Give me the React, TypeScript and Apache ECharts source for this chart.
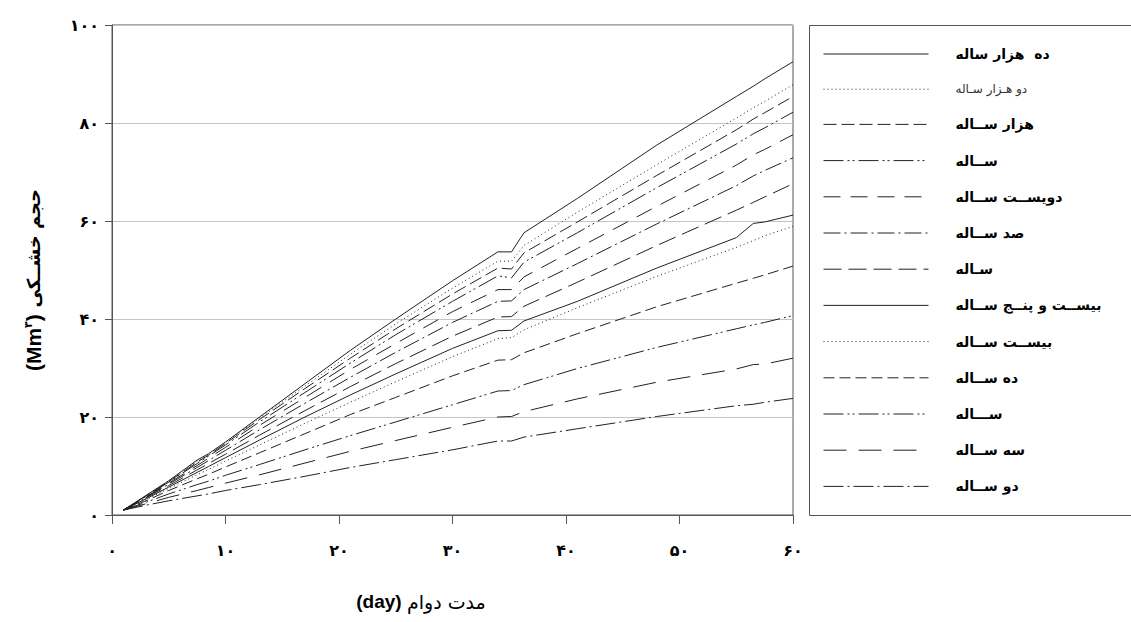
import React, { useEffect, useRef } from 'react';
import * as echarts from 'echarts';

const days = [1, 3, 5, 7.5, 8.5, 10, 13, 17, 21, 25, 30, 34, 35.2, 36.3, 41, 48, 55, 56.5, 57.5, 60];

const L1 = [1.0, 4.0, 7.0, 11.2, 12.5, 14.9, 20.0, 26.8, 33.6, 40.0, 47.8, 53.7, 53.7, 57.6, 64.6, 75.5, 85.4, 87.5, 89.0, 92.5];
const L2 = [1.0, 3.9, 6.9, 11.0, 12.4, 14.8, 19.8, 26.3, 32.8, 39.0, 46.3, 51.8, 51.8, 55.0, 61.8, 71.5, 81.0, 83.1, 84.4, 87.8];
const L3 = [1.0, 3.9, 6.8, 10.8, 12.2, 14.6, 19.5, 25.8, 32.0, 38.0, 45.1, 50.4, 50.2, 53.5, 59.8, 69.3, 78.6, 80.8, 82.1, 85.4];
const L4 = [1.0, 3.8, 6.7, 10.5, 12.0, 14.3, 19.0, 25.0, 31.0, 36.8, 43.6, 48.8, 48.4, 51.6, 57.6, 66.8, 75.7, 77.8, 79.0, 82.2];
const L5 = [1.0, 3.7, 6.5, 10.1, 11.6, 13.8, 18.3, 24.0, 29.7, 35.0, 41.5, 46.0, 46.0, 48.6, 54.4, 63.0, 71.4, 73.5, 74.6, 77.6];
const L6 = [1.0, 3.6, 6.3, 9.7, 11.1, 13.2, 17.4, 22.8, 28.1, 33.2, 39.3, 43.6, 43.7, 46.0, 51.3, 59.4, 67.2, 69.2, 70.3, 72.9];
const L7 = [1.0, 3.5, 6.0, 9.2, 10.5, 12.4, 16.3, 21.3, 26.2, 30.9, 36.5, 40.4, 40.5, 42.6, 47.5, 55.0, 62.2, 63.8, 64.9, 67.6];
const L8 = [1.0, 3.3, 5.7, 8.7, 9.9, 11.7, 15.3, 20.0, 24.5, 28.8, 34.0, 37.6, 37.7, 39.6, 43.6, 50.4, 56.6, 59.5, 59.8, 61.2];
const L9 = [1.0, 3.1, 5.4, 8.2, 9.3, 11.0, 14.3, 18.7, 23.0, 27.2, 32.3, 36.0, 36.2, 37.8, 42.3, 48.7, 54.6, 56.0, 57.0, 58.9];
const L10 = [1.0, 2.9, 5.0, 7.4, 8.3, 9.8, 12.7, 16.6, 20.5, 24.0, 28.4, 31.6, 31.7, 33.1, 37.0, 42.5, 47.3, 48.3, 49.0, 50.8];
const L11 = [1.0, 2.6, 4.3, 6.2, 6.9, 8.1, 10.3, 13.3, 16.2, 19.0, 22.5, 25.3, 25.4, 26.6, 29.9, 34.2, 38.0, 38.8, 39.3, 40.7];
const L12 = [1.0, 2.3, 3.6, 5.0, 5.6, 6.5, 8.2, 10.6, 13.0, 15.2, 17.9, 20.0, 20.1, 21.1, 23.7, 27.1, 29.8, 30.7, 30.8, 32.0];
const L13 = [1.0, 2.0, 2.9, 3.9, 4.3, 5.0, 6.2, 7.9, 9.7, 11.3, 13.3, 15.1, 15.1, 15.9, 17.6, 20.1, 22.3, 22.6, 23.0, 23.8];

const seriesNames = [
  'ده  هزار ساله',
  'دو هـزار سـاله',
  'هزار ســاله',
  'ســاله',
  'دویســت ســاله',
  'صد ســاله',
  'سـاله',
  'بیســت و پنــج ســاله',
  'بیســت ســاله',
  'ده ســاله',
  'ســـاله',
  'سه ســاله',
  'دو ســاله',
];

const xTickLabels = ['۰', '۱۰', '۲۰', '۳۰', '۴۰', '۵۰', '۶۰'];
const yTickLabels = ['۰', '۲۰', '۴۰', '۶۰', '۸۰', '۱۰۰'];

const allValues = [L1, L2, L3, L4, L5, L6, L7, L8, L9, L10, L11, L12, L13];

const dashTypes: any[] = [
  'solid',
  [1, 3],
  [13, 5],
  [20, 4, 2, 3, 2, 4],
  [17, 10],
  [17, 4, 2, 4],
  [18, 7],
  'solid',
  [1, 3],
  [11, 5],
  [20, 4, 2, 3, 2, 4],
  [23, 12],
  [20, 4, 2, 4],
];

const FA = 'DejaVu Sans, Noto Sans, sans-serif';
const EN = 'Liberation Sans, Arial, sans-serif';

export default function App() {
  const ref = useRef<HTMLDivElement>(null);
  useEffect(() => {
    if (!ref.current) return;
    const chart = echarts.init(ref.current, undefined, { renderer: 'svg' });
    const series = allValues.map((vals, i) => ({
      name: seriesNames[i],
      type: 'line',
      symbol: 'none',
      showSymbol: false,
      smooth: false,
      color: '#222',
      lineStyle: { color: '#222', width: 1, type: dashTypes[i] },
      data: days.map((d, j) => [d, vals[j]]),
    }));
    chart.setOption({
      animation: false,
      backgroundColor: '#fff',
      grid: {
        left: 112,
        right: 338,
        top: 25,
        bottom: 107,
        show: true,
        borderColor: '#555',
        borderWidth: 1,
        backgroundColor: 'transparent',
      },
      graphic: [
        {
          type: 'rect',
          shape: { x: 809.5, y: 25.5, width: 340, height: 490 },
          style: { fill: 'none', stroke: '#555', lineWidth: 1 },
          silent: true,
        },
      ],
      legend: {
        orient: 'vertical',
        left: 823,
        top: 47,
        padding: 0,
        itemWidth: 105,
        itemHeight: 14,
        itemGap: 22.2,
        selectedMode: false,
        data: seriesNames,
        itemStyle: { opacity: 0 },
        lineStyle: { width: 1 },
        formatter: (name: string) =>
          name === seriesNames[1] ? `{t|${name}}` : `{b|${name}}`,
        textStyle: {
          padding: [0, 0, 0, 22],
          rich: {
            b: { fontFamily: FA, fontSize: 14, fontWeight: 'bold', color: '#000', lineHeight: 16 },
            t: { fontFamily: FA, fontSize: 12, fontWeight: 'normal', color: '#333', lineHeight: 16 },
          },
        },
      },
      xAxis: {
        type: 'value',
        min: 0,
        max: 60,
        interval: 10,
        name: '{en|(day) }{fa|مدت دوام}',
        nameLocation: 'middle',
        nameGap: 77,
        nameTextStyle: {
          padding: [0, 63, 0, 0],
          rich: {
            en: { fontFamily: EN, fontSize: 19, fontWeight: 'bold', color: '#000' },
            fa: { fontFamily: FA, fontSize: 19, fontWeight: 'normal', color: '#000' },
          },
        },
        axisLine: { show: true, lineStyle: { color: '#555', width: 1 } },
        axisTick: { show: true, length: 9, lineStyle: { color: '#555' } },
        axisLabel: {
          margin: 27,
          fontFamily: FA,
          fontSize: 16,
          fontWeight: 'bold',
          color: '#000',
          formatter: (v: number) => xTickLabels[Math.round(v / 10)] ?? '',
        },
        splitLine: { show: false },
      },
      yAxis: {
        type: 'value',
        min: 0,
        max: 100,
        interval: 20,
        name: '{en|(Mm}{sup|۳}{en|)}  {fa|حجم خشــکی}',
        nameLocation: 'middle',
        nameRotate: 90,
        nameGap: 68,
        nameTextStyle: {
          padding: [0, 20, 0, 0],
          rich: {
            en: { fontFamily: EN, fontSize: 21, fontWeight: 'bold', color: '#000' },
            sup: { fontFamily: FA, fontSize: 11, fontWeight: 'bold', color: '#000', verticalAlign: 'top', padding: [0, 0, 8, 0] },
            fa: { fontFamily: FA, fontSize: 18, fontWeight: 'bold', color: '#000' },
          },
        },
        axisLine: { show: true, lineStyle: { color: '#555', width: 1 } },
        axisTick: { show: true, length: 7, lineStyle: { color: '#555' } },
        axisLabel: {
          margin: 13,
          fontFamily: FA,
          fontSize: 16,
          fontWeight: 'bold',
          color: '#000',
          formatter: (v: number) => yTickLabels[Math.round(v / 20)] ?? '',
        },
        splitLine: { show: true, lineStyle: { color: '#c4c4c4', width: 1 } },
      },
      series,
    });
    return () => chart.dispose();
  }, []);
  return (
    <div
      ref={ref}
      style={{ position: 'absolute', left: 0, top: 0, width: 1131, height: 622, background: '#fff' }}
    />
  );
}
